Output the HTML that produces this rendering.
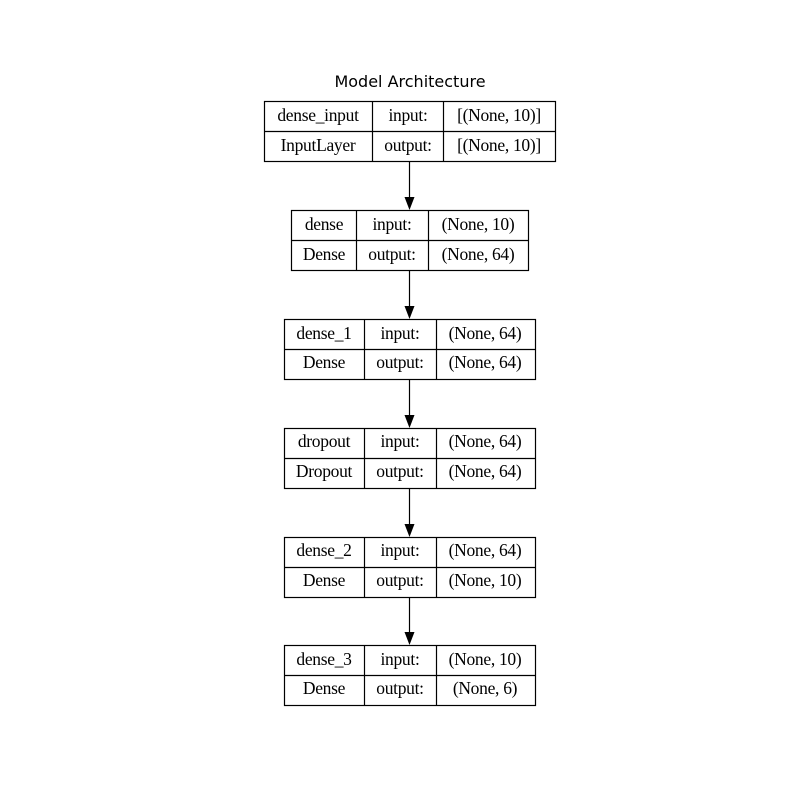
<!DOCTYPE html>
<html><head><style>body{margin:0;background:#fff}svg{display:block}</style></head><body>
<svg width="800" height="800" xmlns="http://www.w3.org/2000/svg">
<rect width="800" height="800" fill="#fff"/>
<text x="410" y="87" text-anchor="middle" font-family="'DejaVu Sans',sans-serif" font-size="16" fill="#000">Model Architecture</text>
<g font-family="'Liberation Serif',serif" font-size="17.5" fill="#000" text-anchor="middle" stroke="none" letter-spacing="-0.3">
<g fill="none" stroke="#000" stroke-width="1.2">
<rect x="264.5" y="101.5" width="291" height="60"/><line x1="264.5" y1="131.5" x2="555.5" y2="131.5"/><line x1="372.5" y1="101.5" x2="372.5" y2="161.5"/><line x1="443.5" y1="101.5" x2="443.5" y2="161.5"/>
<rect x="291.5" y="210.5" width="237" height="60"/><line x1="291.5" y1="240.5" x2="528.5" y2="240.5"/><line x1="356.5" y1="210.5" x2="356.5" y2="270.5"/><line x1="428.5" y1="210.5" x2="428.5" y2="270.5"/>
<rect x="284.5" y="319.5" width="251" height="60"/><line x1="284.5" y1="349.5" x2="535.5" y2="349.5"/><line x1="364.5" y1="319.5" x2="364.5" y2="379.5"/><line x1="436.5" y1="319.5" x2="436.5" y2="379.5"/>
<rect x="284.5" y="428.5" width="251" height="60"/><line x1="284.5" y1="458.5" x2="535.5" y2="458.5"/><line x1="364.5" y1="428.5" x2="364.5" y2="488.5"/><line x1="436.5" y1="428.5" x2="436.5" y2="488.5"/>
<rect x="284.5" y="537.5" width="251" height="60"/><line x1="284.5" y1="567.5" x2="535.5" y2="567.5"/><line x1="364.5" y1="537.5" x2="364.5" y2="597.5"/><line x1="436.5" y1="537.5" x2="436.5" y2="597.5"/>
<rect x="284.5" y="645.5" width="251" height="60"/><line x1="284.5" y1="675.5" x2="535.5" y2="675.5"/><line x1="364.5" y1="645.5" x2="364.5" y2="705.5"/><line x1="436.5" y1="645.5" x2="436.5" y2="705.5"/>
<line x1="409.5" y1="162" x2="409.5" y2="198"/><line x1="409.5" y1="271" x2="409.5" y2="307"/><line x1="409.5" y1="380" x2="409.5" y2="416"/><line x1="409.5" y1="489" x2="409.5" y2="525"/><line x1="409.5" y1="598" x2="409.5" y2="633"/>
</g>
<g fill="#000">
<polygon points="404.5,197 414.5,197 409.5,210"/><polygon points="404.5,306 414.5,306 409.5,319"/><polygon points="404.5,415 414.5,415 409.5,428"/><polygon points="404.5,524 414.5,524 409.5,537"/><polygon points="404.5,632 414.5,632 409.5,645"/>
</g>
<text x="318" y="121">dense_input</text><text x="408" y="121">input:</text><text x="499" y="121">[(None, 10)]</text>
<text x="318" y="151">InputLayer</text><text x="408" y="151">output:</text><text x="499" y="151">[(None, 10)]</text>
<text x="324" y="230">dense</text><text x="392" y="230">input:</text><text x="478" y="230">(None, 10)</text>
<text x="324" y="260">Dense</text><text x="392" y="260">output:</text><text x="478" y="260">(None, 64)</text>
<text x="324" y="339">dense_1</text><text x="400" y="339">input:</text><text x="485" y="339">(None, 64)</text>
<text x="324" y="368">Dense</text><text x="400" y="368">output:</text><text x="485" y="368">(None, 64)</text>
<text x="324" y="447">dropout</text><text x="400" y="447">input:</text><text x="485" y="447">(None, 64)</text>
<text x="324" y="477">Dropout</text><text x="400" y="477">output:</text><text x="485" y="477">(None, 64)</text>
<text x="324" y="556">dense_2</text><text x="400" y="556">input:</text><text x="485" y="556">(None, 64)</text>
<text x="324" y="586">Dense</text><text x="400" y="586">output:</text><text x="485" y="586">(None, 10)</text>
<text x="324" y="665">dense_3</text><text x="400" y="665">input:</text><text x="485" y="665">(None, 10)</text>
<text x="324" y="694">Dense</text><text x="400" y="694">output:</text><text x="485" y="694">(None, 6)</text>
</g>
</svg>
</body></html>
